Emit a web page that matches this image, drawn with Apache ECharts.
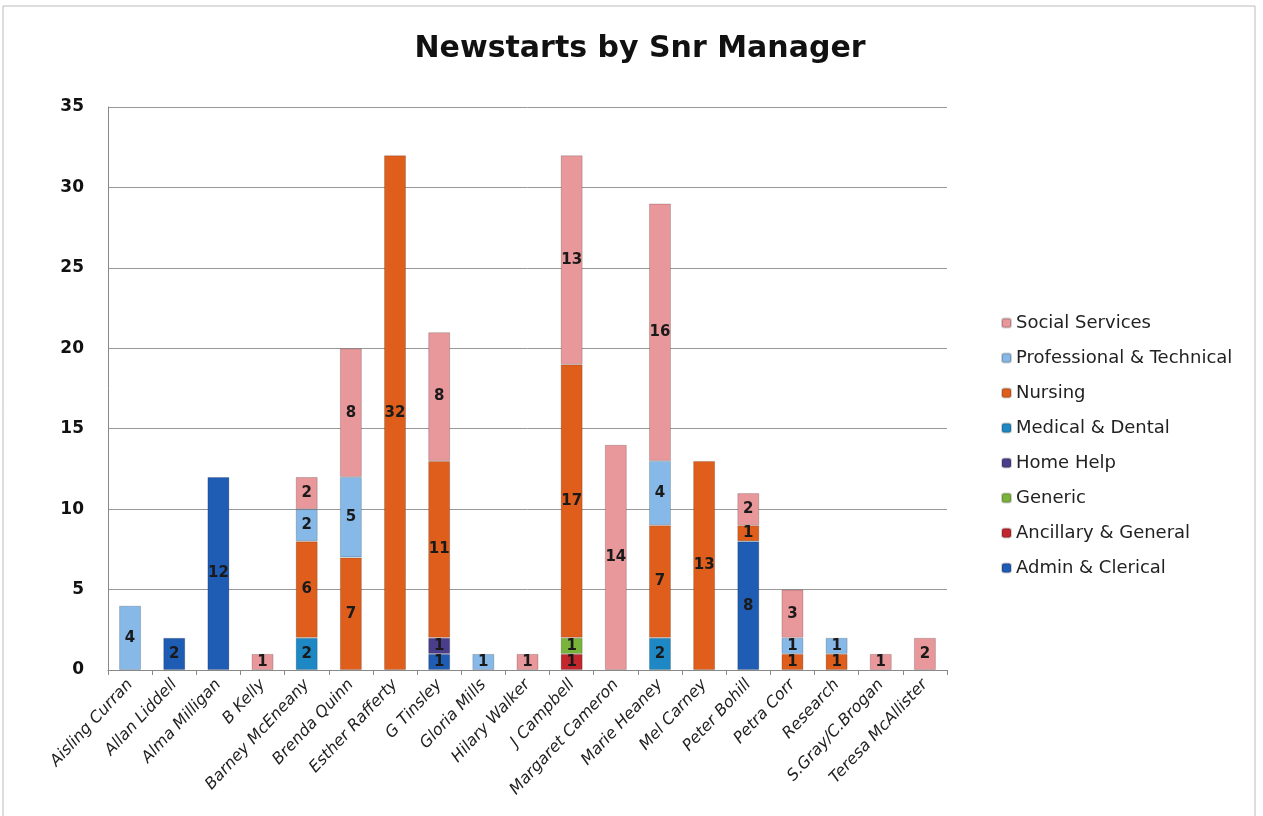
<!DOCTYPE html>
<html><head><meta charset="utf-8">
<script src="https://cdn.jsdelivr.net/npm/echarts@6/dist/echarts.min.js"></script>
<style>html,body{margin:0;padding:0;background:#fff}#c{width:1263px;height:816px}</style>
</head><body><div id="c"></div>
<script>
const categories = ["Aisling Curran","Allan Liddell","Alma Milligan","B Kelly","Barney McEneany","Brenda Quinn","Esther Rafferty","G Tinsley","Gloria Mills","Hilary Walker","J Campbell","Margaret Cameron","Marie Heaney","Mel Carney","Peter Bohill","Petra Corr","Research","S.Gray/C.Brogan","Teresa McAllister"];
const adminClerical   = [0,2,12,0,0,0,0,1,0,0,0,0,0,0,8,0,0,0,0];
const ancillaryGeneral= [0,0,0,0,0,0,0,0,0,0,1,0,0,0,0,0,0,0,0];
const generic         = [0,0,0,0,0,0,0,0,0,0,1,0,0,0,0,0,0,0,0];
const homeHelp        = [0,0,0,0,0,0,0,1,0,0,0,0,0,0,0,0,0,0,0];
const medicalDental   = [0,0,0,0,2,0,0,0,0,0,0,0,2,0,0,0,0,0,0];
const nursing         = [0,0,0,0,6,7,32,11,0,0,17,0,7,13,1,1,1,0,0];
const professionalTech= [4,0,0,0,2,5,0,0,1,0,0,0,4,0,0,1,1,0,0];
const socialServices  = [0,0,0,1,2,8,0,8,0,1,13,14,16,0,2,3,0,1,2];
const yTicks = [0,5,10,15,20,25,30,35];

const seriesDefs = [
  ["Admin & Clerical", adminClerical, "#1F5CB4"],
  ["Ancillary & General", ancillaryGeneral, "#C1272D"],
  ["Generic", generic, "#7AB33C"],
  ["Home Help", homeHelp, "#4A3D8C"],
  ["Medical & Dental", medicalDental, "#1E88C4"],
  ["Nursing", nursing, "#DF5E1C"],
  ["Professional & Technical", professionalTech, "#86B9E8"],
  ["Social Services", socialServices, "#E8979A"]
];
const FONT = 'DejaVu Sans';
const series = seriesDefs.map(([name, data, color]) => ({
  name, type: 'bar', stack: 'total', barWidth: 22,
  data: data.map(v => v === 0 ? null : v),
  itemStyle: {color, borderColor: 'rgba(0,0,0,0.18)', borderWidth: 1},
  label: {show: true, position: 'inside', color: '#1a1a1a', fontSize: 15, fontWeight: 'bold', fontFamily: FONT}
}));

const chart = echarts.init(document.getElementById('c'));
chart.setOption({
  backgroundColor: '#fff',
  graphic: [{type: 'rect', shape: {x: 3, y: 6, width: 1252, height: 812}, style: {fill: 'none', stroke: '#bbb', lineWidth: 1}}],
  title: {text: 'Newstarts by Snr Manager', left: 635, top: 29, textAlign: 'center',
    textStyle: {fontSize: 30, fontWeight: 'bold', color: '#111', fontFamily: FONT}},
  legend: {
    orient: 'vertical', left: 996, top: 309, itemWidth: 9, itemHeight: 9, itemGap: 17,
    data: seriesDefs.map(s => s[0]).reverse(),
    textStyle: {fontSize: 18, color: '#222', fontFamily: FONT}
  },
  grid: {left: 108, right: 316, top: 107, bottom: 146},
  xAxis: {
    type: 'category', data: categories,
    axisLine: {lineStyle: {color: '#888'}},
    axisTick: {show: true, alignWithLabel: false, lineStyle: {color: '#888'}},
    axisLabel: {rotate: 47, interval: 0, fontSize: 16, fontStyle: 'italic', color: '#222', margin: 12, fontFamily: FONT}
  },
  yAxis: {
    type: 'value', min: 0, max: 35, interval: 5,
    axisLine: {show: true, lineStyle: {color: '#888'}},
    axisTick: {show: false},
    splitLine: {lineStyle: {color: '#999'}},
    axisLabel: {fontSize: 17, fontWeight: 'bold', color: '#111', margin: 24, fontFamily: FONT,
      formatter: v => yTicks.includes(v) ? String(v) : ''}
  },
  series
});
</script></body></html>
